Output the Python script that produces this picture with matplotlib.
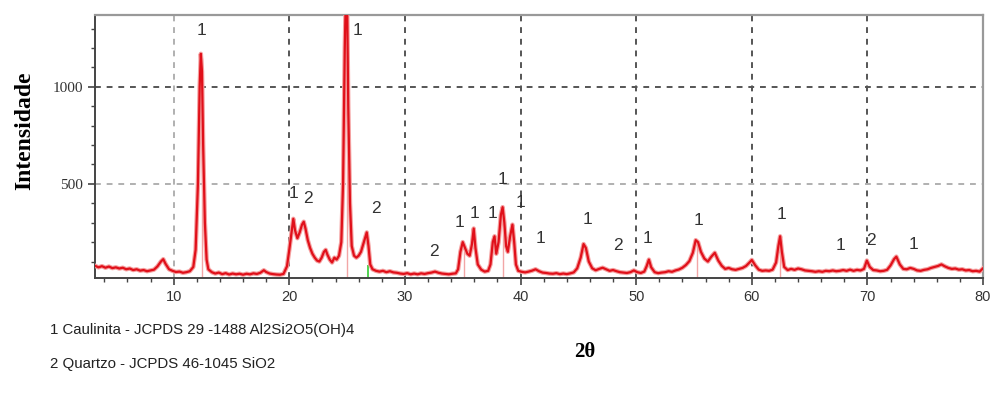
import matplotlib

matplotlib.use("Agg")
import matplotlib.pyplot as plt
from matplotlib.ticker import MultipleLocator, FixedLocator

# diffractogram points (2theta, intensity)
TWO_THETA = [
    3.2, 3.5, 3.8, 4.1, 4.4, 4.7, 5.0, 5.3, 5.6, 5.9, 6.2, 6.5, 6.8, 7.1, 7.4, 7.7, 8.0, 8.3, 8.6, 8.9,
    9.1, 9.3, 9.6, 9.9, 10.2, 10.5, 10.8, 11.1, 11.4, 11.7, 11.9, 12.1, 12.25, 12.35, 12.45, 12.55, 12.7, 12.85, 13.0, 13.3,
    13.6, 13.9, 14.2, 14.5, 14.8, 15.1, 15.4, 15.7, 16.0, 16.3, 16.6, 16.9, 17.2, 17.5, 17.8, 18.0, 18.3, 18.6, 18.9, 19.2,
    19.5, 19.8, 20.0, 20.2, 20.35, 20.5, 20.7, 20.9, 21.1, 21.25, 21.4, 21.6, 21.8, 22.0, 22.2, 22.4, 22.6, 22.8, 23.0, 23.15,
    23.3, 23.5, 23.7, 23.9, 24.1, 24.3, 24.5, 24.65, 24.8, 24.9, 25.0, 25.1, 25.25, 25.4, 25.6, 25.8, 26.0, 26.2, 26.4, 26.6,
    26.7, 26.85, 27.0, 27.2, 27.5, 27.8, 28.1, 28.4, 28.7, 29.0, 29.3, 29.6, 29.9, 30.2, 30.5, 30.8, 31.1, 31.4, 31.7, 32.0,
    32.3, 32.6, 32.9, 33.2, 33.5, 33.8, 34.1, 34.4, 34.6, 34.8, 35.0, 35.2, 35.4, 35.6, 35.8, 35.95, 36.1, 36.3, 36.6, 36.9,
    37.2, 37.4, 37.6, 37.75, 37.9, 38.1, 38.3, 38.45, 38.6, 38.75, 38.9, 39.1, 39.3, 39.45, 39.6, 39.8, 40.1, 40.4, 40.7, 41.0,
    41.3, 41.6, 41.9, 42.2, 42.5, 42.8, 43.1, 43.4, 43.7, 44.0, 44.3, 44.6, 44.9, 45.2, 45.45, 45.65, 45.9, 46.2, 46.5, 46.8,
    47.1, 47.4, 47.7, 48.0, 48.3, 48.6, 48.9, 49.2, 49.5, 49.8, 50.1, 50.4, 50.7, 50.9, 51.1, 51.3, 51.6, 51.9, 52.2, 52.5,
    52.8, 53.1, 53.4, 53.7, 54.0, 54.3, 54.6, 54.9, 55.15, 55.35, 55.6, 55.9, 56.2, 56.5, 56.8, 57.1, 57.4, 57.7, 58.0, 58.3,
    58.6, 58.9, 59.2, 59.5, 59.8, 60.0, 60.3, 60.6, 60.9, 61.2, 61.5, 61.8, 62.1, 62.3, 62.45, 62.6, 62.8, 63.1, 63.4, 63.7,
    64.0, 64.3, 64.6, 64.9, 65.2, 65.5, 65.8, 66.1, 66.4, 66.7, 67.0, 67.3, 67.6, 67.9, 68.2, 68.5, 68.8, 69.1, 69.4, 69.7,
    69.95, 70.2, 70.5, 70.8, 71.1, 71.4, 71.7, 72.0, 72.3, 72.5, 72.8, 73.1, 73.4, 73.7, 74.0, 74.3, 74.6, 74.9, 75.2, 75.5,
    75.8, 76.1, 76.4, 76.7, 77.0, 77.3, 77.6, 77.9, 78.2, 78.5, 78.8, 79.1, 79.4, 79.7, 80.0,
]
INTENSITY = [
    78, 70, 76, 68, 74, 66, 70, 64, 68, 60, 64, 56, 60, 53, 56, 50, 54, 58, 75, 100,
    112, 88, 60, 52, 46, 48, 42, 45, 50, 72, 160, 500, 1000, 1170, 1080, 700, 300, 110, 60, 45,
    38, 43, 35, 40, 33, 38, 34, 37, 32, 37, 34, 39, 36, 42, 55, 46, 38, 35, 33, 32,
    36, 75, 160, 250, 320, 260, 220, 250, 290, 305, 270, 210, 170, 140, 120, 105, 100, 120, 150, 160,
    135, 110, 95, 120, 110, 130, 200, 500, 1200, 1500, 1450, 900, 400, 180, 130, 120, 130, 150, 190, 230,
    250, 180, 85, 60, 52, 48, 52, 45, 50, 44, 42, 38, 36, 40, 34, 38, 34, 39, 36, 40,
    43, 48, 42, 38, 36, 34, 37, 39, 60, 150, 200, 170, 140, 130, 190, 270, 170, 85, 58, 48,
    52, 85, 200, 230, 140, 200, 340, 380, 300, 180, 150, 230, 290, 200, 85, 52, 47, 44, 48, 53,
    60, 50, 43, 41, 38, 37, 40, 35, 38, 35, 39, 44, 65, 120, 190, 170, 100, 65, 55, 62,
    68, 60, 52, 56, 50, 45, 43, 41, 45, 54, 45, 41, 48, 75, 110, 70, 45, 40, 43, 45,
    50, 47, 54, 59, 68, 82, 102, 145, 210, 200, 150, 115, 100, 125, 145, 105, 78, 62, 67, 60,
    57, 62, 67, 77, 95, 108, 80, 58, 52, 54, 52, 58, 95, 180, 230, 150, 72, 56, 62, 57,
    64, 60, 54, 52, 50, 47, 50, 47, 52, 50, 54, 50, 52, 56, 52, 58, 52, 57, 54, 62,
    105, 72, 56, 54, 50, 52, 57, 80, 112, 125, 85, 62, 60, 67, 62, 54, 52, 57, 60, 67,
    72, 77, 85, 75, 67, 62, 64, 58, 60, 54, 56, 50, 52, 48, 65,
]

# peak identification labels: 1 = caulinita, 2 = quartzo
LABEL_X = [12.4, 25.9, 20.4, 21.6, 27.5, 32.5, 34.7, 36.0, 37.6, 38.4, 40.0, 41.7, 45.8,
           48.4, 51.0, 55.4, 62.6, 67.7, 70.3, 74.0]
LABEL_Y = [1288, 1288, 448, 427, 371, 154, 299, 345, 345, 525, 402, 221, 314,
           185, 216, 309, 340, 185, 206, 190]
LABEL_TXT = ["1", "1", "1", "2", "2", "2", "1", "1", "1", "1", "1", "1", "1",
             "2", "1", "1", "1", "1", "2", "1"]

# reference sticks drawn faintly under the pattern
STICK_X = [12.45, 25.0, 35.1, 38.5, 55.3, 62.45]
STICK_H = [1150, 1370, 190, 370, 200, 220]

LEGEND_LINES = [
    "1 Caulinita - JCPDS 29 -1488 Al2Si2O5(OH)4",
    "2 Quartzo - JCPDS 46-1045 SiO2",
]

fig = plt.figure(figsize=(9.95, 4.01), dpi=100, facecolor="white")
ax = fig.add_axes([0.0955, 0.3067, 0.8925, 0.6559])

ax.set_xlim(3.2, 80)
ax.set_ylim(15, 1370)

# grid
for gx in [10, 20, 30, 40, 50, 60, 70]:
    c = "#b0b0b0" if gx == 10 else "#555555"
    ax.axvline(gx, color=c, lw=1.4, ls=(0, (3, 3)), zorder=1)
for gy in [500, 1000]:
    c = "#b0b0b0" if gy == 500 else "#555555"
    ax.axhline(gy, color=c, lw=1.4, ls=(0, (3, 3)), zorder=1)

ax.vlines(STICK_X, 15, STICK_H, color="#f2a6a6", lw=1.0, zorder=2)
ax.vlines([26.85], 15, 80, color="#33cc33", lw=1.2, zorder=2)

ax.plot(TWO_THETA, INTENSITY, color="#f5a0a0", lw=3.2, zorder=3)
ax.plot(TWO_THETA, INTENSITY, color="#e0101a", lw=1.6, zorder=4)

for x, y, t in zip(LABEL_X, LABEL_Y, LABEL_TXT):
    ax.text(x, y, t, ha="center", va="center", fontsize=12.5, color="#333333",
            family="Liberation Sans", zorder=5)

ax.xaxis.set_major_locator(FixedLocator([10, 20, 30, 40, 50, 60, 70, 80]))
ax.xaxis.set_minor_locator(MultipleLocator(2))
ax.yaxis.set_major_locator(FixedLocator([500, 1000]))
ax.yaxis.set_minor_locator(MultipleLocator(100))
ax.tick_params(axis="both", which="major", direction="out", length=5, width=1.2,
               color="#444444", labelcolor="#333333")
ax.tick_params(axis="both", which="minor", direction="out", length=3, width=1,
               color="#444444")
for lab in ax.get_xticklabels():
    lab.set_family("Liberation Sans")
    lab.set_fontsize(10.5)
for lab in ax.get_yticklabels():
    lab.set_family("Liberation Serif")
    lab.set_fontsize(11)

for side in ["top", "right"]:
    ax.spines[side].set_color("#999999")
    ax.spines[side].set_linewidth(1.6)
for side in ["left", "bottom"]:
    ax.spines[side].set_color("#444444")
    ax.spines[side].set_linewidth(1.4)

fig.text(0.025, 0.675, "Intensidade", rotation=90, ha="center", va="center",
         fontsize=17, fontweight="bold", family="Liberation Serif")
fig.text(0.588, 0.122, "2θ", ha="center", va="center", fontsize=15,
         fontweight="bold", family="Liberation Serif")
fig.text(0.05, 0.177, LEGEND_LINES[0], ha="left", va="center", fontsize=10.8,
         color="#222222", family="Liberation Sans")
fig.text(0.05, 0.092, LEGEND_LINES[1], ha="left", va="center", fontsize=10.8,
         color="#222222", family="Liberation Sans")

fig.savefig("out.png", dpi=100, facecolor="white")
